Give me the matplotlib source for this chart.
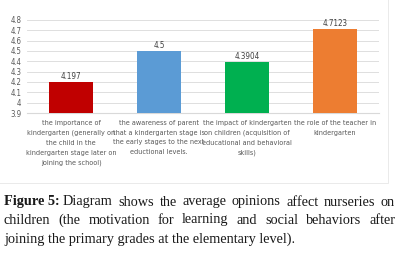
import matplotlib.pyplot as plt
from matplotlib.patches import Rectangle

categories = [
    "the importance of\nkindergarten (generally on\nthe child in the\nkindergarten stage later on\njoining the school)",
    "the awareness of parent\nthat a kindergarten stage is\nthe early stages to the next\neductional levels.",
    "the impact of kindergarten\non children (acquisition of\neducational and behavioral\nskills)",
    "the role of the teacher in\nkindergarten",
]
values = [4.197, 4.5, 4.3904, 4.7123]
value_labels = ["4.197", "4.5", "4.3904", "4.7123"]
colors = ["#C00000", "#5B9BD5", "#00B050", "#ED7D31"]
yticks = [3.9, 4, 4.1, 4.2, 4.3, 4.4, 4.5, 4.6, 4.7, 4.8]
ytick_labels = ["3.9", "4", "4.1", "4.2", "4.3", "4.4", "4.5", "4.6", "4.7", "4.8"]

caption_lines = [
    ["Diagram", "shows", "the", "average", "opinions", "affect", "nurseries", "on"],
    ["children", "(the", "motivation", "for", "learning", "and", "social", "behaviors", "after"],
]
caption_label = "Figure 5:"
caption_last = "joining the primary grades at the elementary level)."

fig = plt.figure(figsize=(4, 2.59), dpi=100)
ax = fig.add_axes([0.0675, 0.5637, 0.88, 0.3591])

x = range(len(values))
ax.bar(x, [v - 3.9 for v in values], bottom=3.9, width=0.5, color=colors, zorder=3)
for i, v in enumerate(values):
    ax.text(i, v + 0.01, value_labels[i], ha="center", va="bottom", fontsize=5.8,
            color="#404040", family="DejaVu Sans", fontstretch="condensed")

ax.set_xlim(-0.5, len(values) - 0.5)
ax.set_ylim(3.9, 4.8)
ax.set_yticks(yticks)
ax.set_yticklabels(ytick_labels, fontsize=5.6, color="#595959", family="DejaVu Sans",
                   fontstretch="condensed")
ax.set_xticks(list(x))
ax.set_xticklabels(categories, fontsize=5.2, color="#595959", linespacing=1.75,
                   family="DejaVu Sans", fontstretch="condensed")
ax.tick_params(axis="x", length=0, pad=5)
ax.tick_params(axis="y", length=0, pad=4)
ax.grid(axis="y", color="#D9D9D9", linewidth=0.6, zorder=0)
for s in ["top", "right", "left"]:
    ax.spines[s].set_visible(False)
ax.spines["bottom"].set_color("#D9D9D9")
ax.spines["bottom"].set_linewidth(0.8)

# faint chart frame
fig.patches.append(Rectangle((-0.01, 1 - 183 / 259), 388 / 400 + 0.01, 183 / 259 + 0.01,
                             transform=fig.transFigure, fill=False, edgecolor="#E6E6E6",
                             linewidth=0.6))

# caption: first two lines justified word by word
fig.canvas.draw()
renderer = fig.canvas.get_renderer()
cap = dict(fontsize=10.3, family="Liberation Serif", color="#1a1a1a", va="center", ha="left")
left_px, right_px = 4, 395
line_y = [202, 220, 239]


def text_width(s, **kw):
    t = fig.text(0, 0, s, **{**cap, **kw})
    w = t.get_window_extent(renderer).width
    t.remove()
    return w


for li, words in enumerate(caption_lines):
    start = left_px
    if li == 0:
        fig.text(left_px / 400, 1 - line_y[0] / 259, caption_label, fontweight="bold", **cap)
        start = left_px + text_width(caption_label, fontweight="bold")
        words = ["x"] + words
    # natural position of each word taken from the whole-line layout
    offs = []
    for k in range(len(words)):
        prefix = " ".join(words[:k + 1])
        offs.append(text_width(prefix) - text_width(words[k]))
    if li == 0:
        base = offs[1] - text_width("x ") + text_width(" ")
        offs = [o - offs[1] for o in offs[1:]]
        words = words[1:]
        start = start + text_width(" ") * 0.9
    natural = offs[-1] + text_width(words[-1])
    extra = (right_px - start - natural) / (len(words) - 1)
    for k, w in enumerate(words):
        fig.text((start + offs[k] + extra * k) / 400, 1 - line_y[li] / 259, w, **cap)

fig.text(left_px / 400, 1 - line_y[2] / 259, caption_last, **cap)

fig.savefig("out.png", dpi=100)
